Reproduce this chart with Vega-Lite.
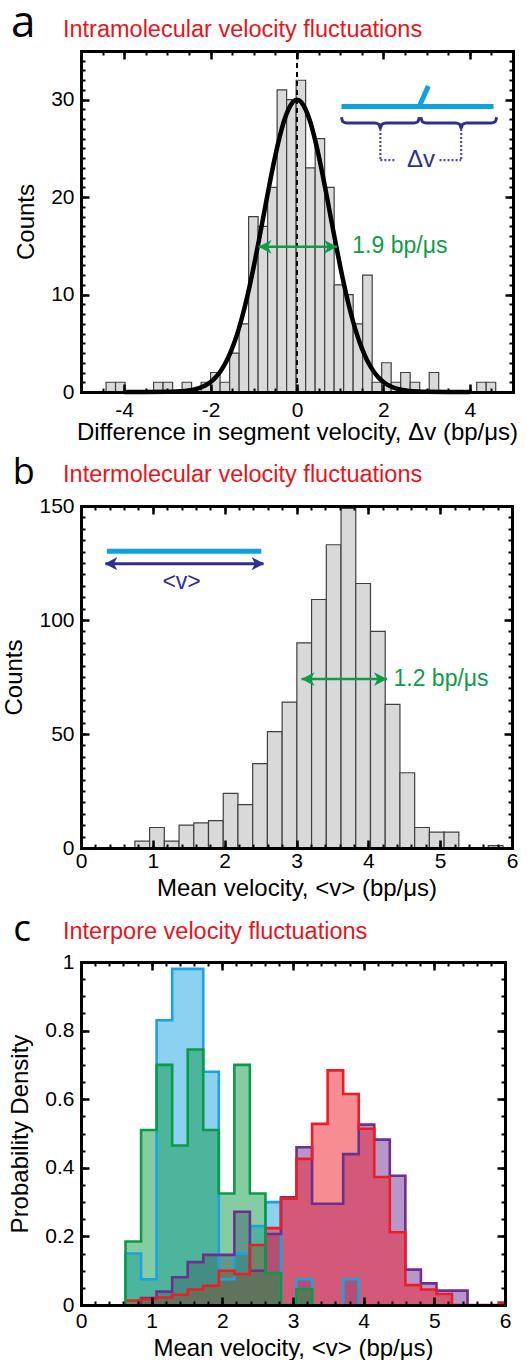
{
 "$schema": "https://vega.github.io/schema/vega-lite/v6.json",
 "background": "white",
 "padding": {"left": 2, "top": 2, "right": 2, "bottom": 0},
 "bounds": "flush",
 "spacing": 114,
 "datasets": {
  "histA": [
   {"x0": -4.42, "x1": -4.20, "n": 1}, {"x0": -4.20, "x1": -3.98, "n": 1},
   {"x0": -3.32, "x1": -3.10, "n": 1}, {"x0": -3.10, "x1": -2.88, "n": 1},
   {"x0": -2.66, "x1": -2.44, "n": 1}, {"x0": -2.22, "x1": -2.00, "n": 1},
   {"x0": -2.00, "x1": -1.78, "n": 2}, {"x0": -1.78, "x1": -1.56, "n": 1},
   {"x0": -1.56, "x1": -1.34, "n": 4}, {"x0": -1.34, "x1": -1.12, "n": 7},
   {"x0": -1.12, "x1": -0.90, "n": 18}, {"x0": -0.90, "x1": -0.68, "n": 17},
   {"x0": -0.68, "x1": -0.46, "n": 21}, {"x0": -0.46, "x1": -0.24, "n": 31},
   {"x0": -0.24, "x1": -0.02, "n": 30}, {"x0": -0.02, "x1": 0.20, "n": 32},
   {"x0": 0.20, "x1": 0.42, "n": 23}, {"x0": 0.42, "x1": 0.64, "n": 26},
   {"x0": 0.64, "x1": 0.86, "n": 21}, {"x0": 0.86, "x1": 1.08, "n": 11},
   {"x0": 1.08, "x1": 1.30, "n": 10}, {"x0": 1.30, "x1": 1.52, "n": 7},
   {"x0": 1.52, "x1": 1.74, "n": 12}, {"x0": 1.74, "x1": 1.96, "n": 1},
   {"x0": 1.96, "x1": 2.18, "n": 3}, {"x0": 2.18, "x1": 2.40, "n": 1},
   {"x0": 2.40, "x1": 2.62, "n": 2}, {"x0": 2.62, "x1": 2.84, "n": 1},
   {"x0": 3.06, "x1": 3.28, "n": 2}, {"x0": 4.16, "x1": 4.38, "n": 1},
   {"x0": 4.38, "x1": 4.60, "n": 1}
  ],
  "gauss": [
   {"x": -4.0, "y": 0}, {"x": -3.5, "y": 0}, {"x": -3.0, "y": 0.015}, {"x": -2.8, "y": 0.04},
   {"x": -2.6, "y": 0.10}, {"x": -2.4, "y": 0.23}, {"x": -2.2, "y": 0.51}, {"x": -2.0, "y": 1.03},
   {"x": -1.9, "y": 1.43}, {"x": -1.8, "y": 1.95}, {"x": -1.7, "y": 2.62}, {"x": -1.6, "y": 3.46},
   {"x": -1.5, "y": 4.50}, {"x": -1.4, "y": 5.74}, {"x": -1.3, "y": 7.21}, {"x": -1.2, "y": 8.91},
   {"x": -1.1, "y": 10.81}, {"x": -1.0, "y": 12.91}, {"x": -0.9, "y": 15.15}, {"x": -0.8, "y": 17.49},
   {"x": -0.7, "y": 19.85}, {"x": -0.6, "y": 22.15}, {"x": -0.5, "y": 24.30}, {"x": -0.4, "y": 26.21},
   {"x": -0.3, "y": 27.81}, {"x": -0.2, "y": 29.00}, {"x": -0.1, "y": 29.75}, {"x": 0.0, "y": 30.0},
   {"x": 0.1, "y": 29.75}, {"x": 0.2, "y": 29.00}, {"x": 0.3, "y": 27.81}, {"x": 0.4, "y": 26.21},
   {"x": 0.5, "y": 24.30}, {"x": 0.6, "y": 22.15}, {"x": 0.7, "y": 19.85}, {"x": 0.8, "y": 17.49},
   {"x": 0.9, "y": 15.15}, {"x": 1.0, "y": 12.91}, {"x": 1.1, "y": 10.81}, {"x": 1.2, "y": 8.91},
   {"x": 1.3, "y": 7.21}, {"x": 1.4, "y": 5.74}, {"x": 1.5, "y": 4.50}, {"x": 1.6, "y": 3.46},
   {"x": 1.7, "y": 2.62}, {"x": 1.8, "y": 1.95}, {"x": 1.9, "y": 1.43}, {"x": 2.0, "y": 1.03},
   {"x": 2.2, "y": 0.51}, {"x": 2.4, "y": 0.23}, {"x": 2.6, "y": 0.10}, {"x": 2.8, "y": 0.04},
   {"x": 3.0, "y": 0.015}, {"x": 3.5, "y": 0}, {"x": 4.0, "y": 0}
  ],
  "braces": [
   {"g": "L", "x": 1.03, "y": 28.2}, {"g": "L", "x": 1.06, "y": 27.75}, {"g": "L", "x": 1.15, "y": 27.6},
   {"g": "L", "x": 1.80, "y": 27.6}, {"g": "L", "x": 1.90, "y": 27.45}, {"g": "L", "x": 1.93, "y": 27.1},
   {"g": "L", "x": 1.96, "y": 27.45}, {"g": "L", "x": 2.06, "y": 27.6}, {"g": "L", "x": 2.71, "y": 27.6},
   {"g": "L", "x": 2.80, "y": 27.75}, {"g": "L", "x": 2.83, "y": 28.2},
   {"g": "R", "x": 2.87, "y": 28.2}, {"g": "R", "x": 2.90, "y": 27.75}, {"g": "R", "x": 2.99, "y": 27.6},
   {"g": "R", "x": 3.67, "y": 27.6}, {"g": "R", "x": 3.77, "y": 27.45}, {"g": "R", "x": 3.80, "y": 27.1},
   {"g": "R", "x": 3.83, "y": 27.45}, {"g": "R", "x": 3.93, "y": 27.6}, {"g": "R", "x": 4.50, "y": 27.6},
   {"g": "R", "x": 4.59, "y": 27.75}, {"g": "R", "x": 4.62, "y": 28.2}
  ],
  "dotsA": [
   {"x": 1.93, "x2": 1.93, "y": 27.0, "y2": 23.8},
   {"x": 1.93, "x2": 2.30, "y": 23.8, "y2": 23.8},
   {"x": 3.80, "x2": 3.80, "y": 27.0, "y2": 23.8},
   {"x": 3.30, "x2": 3.80, "y": 23.8, "y2": 23.8}
  ],
  "cyanA": [
   {"x": 1.03, "x2": 4.55, "y": 29.3, "y2": 29.3},
   {"x": 2.83, "x2": 3.04, "y": 29.3, "y2": 31.4}
  ],
  "histB": [
   {"x0": 0.75, "x1": 0.955, "n": 3}, {"x0": 0.955, "x1": 1.16, "n": 9},
   {"x0": 1.16, "x1": 1.365, "n": 3}, {"x0": 1.365, "x1": 1.57, "n": 10},
   {"x0": 1.57, "x1": 1.775, "n": 11}, {"x0": 1.775, "x1": 1.98, "n": 12},
   {"x0": 1.98, "x1": 2.185, "n": 24}, {"x0": 2.185, "x1": 2.39, "n": 19},
   {"x0": 2.39, "x1": 2.595, "n": 37}, {"x0": 2.595, "x1": 2.80, "n": 51},
   {"x0": 2.80, "x1": 3.005, "n": 64}, {"x0": 3.005, "x1": 3.21, "n": 90},
   {"x0": 3.21, "x1": 3.415, "n": 109}, {"x0": 3.415, "x1": 3.62, "n": 133},
   {"x0": 3.62, "x1": 3.825, "n": 149}, {"x0": 3.825, "x1": 4.03, "n": 116},
   {"x0": 4.03, "x1": 4.235, "n": 95}, {"x0": 4.235, "x1": 4.44, "n": 63},
   {"x0": 4.44, "x1": 4.645, "n": 33}, {"x0": 4.645, "x1": 4.85, "n": 9},
   {"x0": 4.85, "x1": 5.055, "n": 7}, {"x0": 5.055, "x1": 5.26, "n": 7},
   {"x0": 5.67, "x1": 5.875, "n": 1}
  ],
  "histC": [
   {"s": "blue", "o": 1, "x": 0.63, "d": 0}, {"s": "blue", "o": 2, "x": 0.63, "d": 0.15},
   {"s": "blue", "o": 3, "x": 0.85, "d": 0.075}, {"s": "blue", "o": 4, "x": 1.07, "d": 0.83},
   {"s": "blue", "o": 5, "x": 1.29, "d": 0.98}, {"s": "blue", "o": 6, "x": 1.51, "d": 0.98},
   {"s": "blue", "o": 7, "x": 1.73, "d": 0.68}, {"s": "blue", "o": 8, "x": 1.95, "d": 0.075},
   {"s": "blue", "o": 9, "x": 2.17, "d": 0.15}, {"s": "blue", "o": 10, "x": 2.39, "d": 0.23},
   {"s": "blue", "o": 11, "x": 2.61, "d": 0.30}, {"s": "blue", "o": 12, "x": 2.83, "d": 0},
   {"s": "blue", "o": 13, "x": 3.05, "d": 0.075}, {"s": "blue", "o": 14, "x": 3.27, "d": 0},
   {"s": "blue", "o": 15, "x": 3.71, "d": 0.075}, {"s": "blue", "o": 16, "x": 3.93, "d": 0},
   {"s": "purple", "o": 1, "x": 0.85, "d": 0}, {"s": "purple", "o": 2, "x": 0.85, "d": 0.02},
   {"s": "purple", "o": 3, "x": 1.07, "d": 0.039}, {"s": "purple", "o": 4, "x": 1.29, "d": 0.081},
   {"s": "purple", "o": 5, "x": 1.51, "d": 0.125}, {"s": "purple", "o": 6, "x": 1.73, "d": 0.146},
   {"s": "purple", "o": 7, "x": 1.95, "d": 0.146}, {"s": "purple", "o": 8, "x": 2.17, "d": 0.272},
   {"s": "purple", "o": 9, "x": 2.39, "d": 0.10}, {"s": "purple", "o": 10, "x": 2.61, "d": 0.207},
   {"s": "purple", "o": 11, "x": 2.83, "d": 0.314}, {"s": "purple", "o": 12, "x": 3.05, "d": 0.46},
   {"s": "purple", "o": 13, "x": 3.27, "d": 0.295}, {"s": "purple", "o": 14, "x": 3.49, "d": 0.295},
   {"s": "purple", "o": 15, "x": 3.71, "d": 0.44}, {"s": "purple", "o": 16, "x": 3.93, "d": 0.526},
   {"s": "purple", "o": 17, "x": 4.15, "d": 0.482}, {"s": "purple", "o": 18, "x": 4.37, "d": 0.377},
   {"s": "purple", "o": 19, "x": 4.59, "d": 0.103}, {"s": "purple", "o": 20, "x": 4.81, "d": 0.063},
   {"s": "purple", "o": 21, "x": 5.03, "d": 0.042}, {"s": "purple", "o": 22, "x": 5.25, "d": 0.042},
   {"s": "purple", "o": 23, "x": 5.47, "d": 0},
   {"s": "red", "o": 1, "x": 0.63, "d": 0}, {"s": "red", "o": 2, "x": 0.63, "d": 0.013},
   {"s": "red", "o": 3, "x": 0.85, "d": 0.017}, {"s": "red", "o": 4, "x": 1.07, "d": 0.022},
   {"s": "red", "o": 5, "x": 1.29, "d": 0.03}, {"s": "red", "o": 6, "x": 1.51, "d": 0.045},
   {"s": "red", "o": 7, "x": 1.73, "d": 0.056}, {"s": "red", "o": 8, "x": 1.95, "d": 0.10},
   {"s": "red", "o": 9, "x": 2.17, "d": 0.09}, {"s": "red", "o": 10, "x": 2.39, "d": 0.175},
   {"s": "red", "o": 11, "x": 2.61, "d": 0.224}, {"s": "red", "o": 12, "x": 2.83, "d": 0.31},
   {"s": "red", "o": 13, "x": 3.05, "d": 0.426}, {"s": "red", "o": 14, "x": 3.27, "d": 0.528},
   {"s": "red", "o": 15, "x": 3.49, "d": 0.684}, {"s": "red", "o": 16, "x": 3.71, "d": 0.615},
   {"s": "red", "o": 17, "x": 3.93, "d": 0.514}, {"s": "red", "o": 18, "x": 4.15, "d": 0.373},
   {"s": "red", "o": 19, "x": 4.37, "d": 0.212}, {"s": "red", "o": 20, "x": 4.59, "d": 0.058},
   {"s": "red", "o": 21, "x": 4.81, "d": 0.045}, {"s": "red", "o": 22, "x": 5.03, "d": 0.032},
   {"s": "red", "o": 23, "x": 5.25, "d": 0}, {"s": "red", "o": 24, "x": 5.91, "d": 0.007},
   {"s": "red", "o": 25, "x": 6.13, "d": 0},
   {"s": "green", "o": 1, "x": 0.63, "d": 0}, {"s": "green", "o": 2, "x": 0.63, "d": 0.185},
   {"s": "green", "o": 3, "x": 0.85, "d": 0.51}, {"s": "green", "o": 4, "x": 1.07, "d": 0.70},
   {"s": "green", "o": 5, "x": 1.29, "d": 0.465}, {"s": "green", "o": 6, "x": 1.51, "d": 0.745},
   {"s": "green", "o": 7, "x": 1.73, "d": 0.51}, {"s": "green", "o": 8, "x": 1.95, "d": 0.325},
   {"s": "green", "o": 9, "x": 2.17, "d": 0.70}, {"s": "green", "o": 10, "x": 2.39, "d": 0.325},
   {"s": "green", "o": 11, "x": 2.61, "d": 0.093}, {"s": "green", "o": 12, "x": 2.83, "d": 0},
   {"s": "green", "o": 13, "x": 3.05, "d": 0.046}, {"s": "green", "o": 14, "x": 3.27, "d": 0}
  ]
 },
 "config": {
  "font": "Liberation Sans",
  "view": {"stroke": null},
  "axis": {
   "grid": false, "labelFont": "Liberation Sans", "labelFontSize": 21, "labelColor": "black",
   "titleFont": "Liberation Sans", "titleFontSize": 24, "titleFontWeight": "normal", "titleColor": "black",
   "tickColor": "black", "tickWidth": 2.5, "domainColor": "black", "domainWidth": 3, "domainCap": "square",
   "labelFlush": false, "labelOverlap": false
  }
 },
 "vconcat": [
  {
   "width": 432, "height": 341,
   "resolve": {"axis": {"x": "independent", "y": "independent"}},
   "layer": [
    {
     "data": {"name": "histA"},
     "mark": {"type": "rect", "fill": "#d9d9d9", "stroke": "#404040", "strokeWidth": 1.2},
     "encoding": {
      "x": {"field": "x0", "type": "quantitative", "scale": {"domain": [-5, 5], "nice": false, "zero": false},
            "axis": {"orient": "bottom", "values": [-4, -2, 0, 2, 4], "ticks": false, "domain": false, "labelPadding": 7, "labelExpr": "'' + datum.value", "title": "Difference in segment velocity, Δv (bp/μs)", "titlePadding": 0}},
      "x2": {"field": "x1"},
      "y": {"field": "n", "type": "quantitative", "scale": {"domain": [0, 35], "nice": false, "zero": false},
            "axis": {"orient": "left", "values": [0, 10, 20, 30], "ticks": false, "domain": false, "labelPadding": 7, "title": "Counts", "titlePadding": 12}},
      "y2": {"datum": 0}
     }
    },
    {
     "data": {"values": [{}]},
     "mark": {"type": "rule", "color": "black", "strokeWidth": 2, "strokeDash": [5, 4]},
     "encoding": {
      "x": {"datum": 0, "type": "quantitative",
            "axis": {"orient": "bottom", "values": [-5, -4.5, -4, -3.5, -3, -2.5, -2, -1.5, -1, -0.5, 0, 0.5, 1, 1.5, 2, 2.5, 3, 3.5, 4, 4.5, 5], "labels": false, "title": null, "domain": false, "tickSize": -4, "tickWidth": 2, "zindex": 1}},
      "y": {"datum": 0, "type": "quantitative",
            "axis": {"orient": "left", "values": [0, 1, 2, 3, 4, 5, 6, 7, 8, 9, 10, 11, 12, 13, 14, 15, 16, 17, 18, 19, 20, 21, 22, 23, 24, 25, 26, 27, 28, 29, 30, 31, 32, 33, 34, 35], "labels": false, "title": null, "domain": false, "tickSize": -4, "tickWidth": 2, "zindex": 1}},
      "y2": {"datum": 35}
     }
    },
    {
     "data": {"name": "gauss"},
     "mark": {"type": "line", "color": "black", "strokeWidth": 4.5, "interpolate": "monotone"},
     "encoding": {
      "x": {"field": "x", "type": "quantitative",
            "axis": {"orient": "bottom", "values": [-4, -2, 0, 2, 4], "labels": false, "title": null, "domain": true, "tickSize": -8, "zindex": 1}},
      "y": {"field": "y", "type": "quantitative",
            "axis": {"orient": "left", "values": [0, 10, 20, 30], "labels": false, "title": null, "domain": true, "tickSize": -8, "zindex": 1}}
     }
    },
    {
     "data": {"name": "braces"},
     "mark": {"type": "line", "color": "#2e2f8f", "strokeWidth": 3, "interpolate": "monotone"},
     "encoding": {
      "x": {"field": "x", "type": "quantitative",
            "axis": {"orient": "top", "values": [-4, -2, 0, 2, 4], "labels": false, "title": null, "domain": true, "tickSize": -8, "zindex": 1}},
      "y": {"field": "y", "type": "quantitative",
            "axis": {"orient": "right", "values": [0, 10, 20, 30], "labels": false, "title": null, "domain": true, "tickSize": -8, "zindex": 1}},
      "detail": {"field": "g"}
     }
    },
    {
     "data": {"name": "dotsA"},
     "mark": {"type": "rule", "color": "#5346a6", "strokeWidth": 2.2, "strokeDash": [2, 2]},
     "encoding": {
      "x": {"field": "x", "type": "quantitative",
            "axis": {"orient": "top", "values": [-5, -4.5, -4, -3.5, -3, -2.5, -2, -1.5, -1, -0.5, 0, 0.5, 1, 1.5, 2, 2.5, 3, 3.5, 4, 4.5, 5], "labels": false, "title": null, "domain": false, "tickSize": -4, "tickWidth": 2, "zindex": 1}},
      "x2": {"field": "x2"},
      "y": {"field": "y", "type": "quantitative",
            "axis": {"orient": "right", "values": [0, 1, 2, 3, 4, 5, 6, 7, 8, 9, 10, 11, 12, 13, 14, 15, 16, 17, 18, 19, 20, 21, 22, 23, 24, 25, 26, 27, 28, 29, 30, 31, 32, 33, 34, 35], "labels": false, "title": null, "domain": false, "tickSize": -4, "tickWidth": 2, "zindex": 1}},
      "y2": {"field": "y2"}
     }
    },
    {
     "data": {"name": "cyanA"},
     "mark": {"type": "rule", "color": "#0ca2e2", "strokeWidth": 5},
     "encoding": {
      "x": {"field": "x", "type": "quantitative", "axis": null},
      "x2": {"field": "x2"},
      "y": {"field": "y", "type": "quantitative", "axis": null},
      "y2": {"field": "y2"}
     }
    },
    {
     "data": {"values": [{}]},
     "mark": {"type": "rule", "color": "#0f9b47", "strokeWidth": 2.5},
     "encoding": {
      "x": {"datum": -0.89, "type": "quantitative", "axis": null},
      "x2": {"datum": 0.93},
      "y": {"datum": 14.9, "type": "quantitative", "axis": null}
     }
    },
    {
     "data": {"values": [{}]},
     "mark": {"type": "point", "shape": "M0,0L2,-1.05L1.45,0L2,1.05Z", "filled": true, "color": "#0f9b47", "size": 169, "opacity": 1},
     "encoding": {
      "x": {"datum": -0.89, "type": "quantitative", "axis": null},
      "y": {"datum": 14.9, "type": "quantitative", "axis": null}
     }
    },
    {
     "data": {"values": [{}]},
     "mark": {"type": "point", "shape": "M0,0L-2,-1.05L-1.45,0L-2,1.05Z", "filled": true, "color": "#0f9b47", "size": 169, "opacity": 1},
     "encoding": {
      "x": {"datum": 0.93, "type": "quantitative", "axis": null},
      "y": {"datum": 14.9, "type": "quantitative", "axis": null}
     }
    },
    {
     "data": {"values": [{}]},
     "mark": {"type": "text", "text": "1.9 bp/μs", "color": "#0f9b47", "fontSize": 23, "font": "Liberation Sans", "align": "left", "baseline": "middle"},
     "encoding": {
      "x": {"datum": 1.28, "type": "quantitative", "axis": null},
      "y": {"datum": 15.0, "type": "quantitative", "axis": null}
     }
    },
    {
     "data": {"values": [{}]},
     "mark": {"type": "text", "text": "Δv", "color": "#2e2f8f", "fontSize": 24, "font": "Liberation Sans", "align": "center", "baseline": "middle"},
     "encoding": {
      "x": {"datum": 2.87, "type": "quantitative", "axis": null},
      "y": {"datum": 23.8, "type": "quantitative", "axis": null}
     }
    },
    {
     "data": {"values": [{}]},
     "mark": {"type": "text", "text": "Intramolecular velocity fluctuations", "color": "#e8141c", "fontSize": 23.5, "font": "Liberation Sans", "align": "left", "baseline": "alphabetic"},
     "encoding": {
      "x": {"datum": -5.417, "type": "quantitative", "axis": null},
      "y": {"datum": 36.44, "type": "quantitative", "axis": null}
     }
    },
    {
     "data": {"values": [{}]},
     "mark": {"type": "text", "text": "a", "color": "black", "fontSize": 44, "font": "Open Sans", "align": "left", "baseline": "alphabetic"},
     "encoding": {
      "x": {"datum": -6.62, "type": "quantitative", "axis": null},
      "y": {"datum": 36.41, "type": "quantitative", "axis": null}
     }
    }
   ]
  },
  {
   "width": 431, "height": 342,
   "resolve": {"axis": {"x": "independent", "y": "independent"}},
   "layer": [
    {
     "data": {"name": "histB"},
     "mark": {"type": "rect", "fill": "#d9d9d9", "stroke": "#404040", "strokeWidth": 1.2},
     "encoding": {
      "x": {"field": "x0", "type": "quantitative", "scale": {"domain": [0, 6], "nice": false, "zero": false},
            "axis": {"orient": "bottom", "values": [0, 1, 2, 3, 4, 5, 6], "ticks": false, "domain": false, "labelPadding": 2, "labelExpr": "'' + datum.value", "title": "Mean velocity, <v> (bp/μs)", "titlePadding": 5}},
      "x2": {"field": "x1"},
      "y": {"field": "n", "type": "quantitative", "scale": {"domain": [0, 150], "nice": false, "zero": false},
            "axis": {"orient": "left", "values": [0, 50, 100, 150], "ticks": false, "domain": false, "labelPadding": 7, "title": "Counts", "titlePadding": 12}},
      "y2": {"datum": 0}
     }
    },
    {
     "data": {"values": [{}]},
     "mark": {"type": "rule", "color": "#0ca2e2", "strokeWidth": 5},
     "encoding": {
      "x": {"datum": 0.36, "type": "quantitative",
            "axis": {"orient": "bottom", "values": [0, 1, 2, 3, 4, 5, 6], "labels": false, "title": null, "domain": true, "tickSize": -8, "zindex": 1}},
      "x2": {"datum": 2.51},
      "y": {"datum": 130.2, "type": "quantitative",
            "axis": {"orient": "left", "values": [0, 50, 100, 150], "labels": false, "title": null, "domain": true, "tickSize": -8, "zindex": 1}}
     }
    },
    {
     "data": {"values": [{}]},
     "mark": {"type": "rule", "color": "#2e2f8f", "strokeWidth": 3},
     "encoding": {
      "x": {"datum": 0.34, "type": "quantitative",
            "axis": {"orient": "bottom", "values": [0, 0.2, 0.4, 0.6, 0.8, 1, 1.2, 1.4, 1.6, 1.8, 2, 2.2, 2.4, 2.6, 2.8, 3, 3.2, 3.4, 3.6, 3.8, 4, 4.2, 4.4, 4.6, 4.8, 5, 5.2, 5.4, 5.6, 5.8, 6], "labels": false, "title": null, "domain": false, "tickSize": -4, "tickWidth": 2, "zindex": 1}},
      "x2": {"datum": 2.54},
      "y": {"datum": 124.7, "type": "quantitative",
            "axis": {"orient": "left", "values": [0, 5, 10, 15, 20, 25, 30, 35, 40, 45, 50, 55, 60, 65, 70, 75, 80, 85, 90, 95, 100, 105, 110, 115, 120, 125, 130, 135, 140, 145, 150], "labels": false, "title": null, "domain": false, "tickSize": -4, "tickWidth": 2, "zindex": 1}}
     }
    },
    {
     "data": {"values": [{}]},
     "mark": {"type": "rule", "color": "#0f9b47", "strokeWidth": 2.5},
     "encoding": {
      "x": {"datum": 3.07, "type": "quantitative",
            "axis": {"orient": "top", "values": [0, 1, 2, 3, 4, 5, 6], "labels": false, "title": null, "domain": true, "tickSize": -8, "zindex": 1}},
      "x2": {"datum": 4.26},
      "y": {"datum": 74.1, "type": "quantitative",
            "axis": {"orient": "right", "values": [0, 50, 100, 150], "labels": false, "title": null, "domain": true, "tickSize": -8, "zindex": 1}}
     }
    },
    {
     "data": {"values": [{}]},
     "mark": {"type": "point", "shape": "M0,0L2,-1.05L1.45,0L2,1.05Z", "filled": true, "color": "#2e2f8f", "size": 160, "opacity": 1},
     "encoding": {
      "x": {"datum": 0.33, "type": "quantitative",
            "axis": {"orient": "top", "values": [0, 0.2, 0.4, 0.6, 0.8, 1, 1.2, 1.4, 1.6, 1.8, 2, 2.2, 2.4, 2.6, 2.8, 3, 3.2, 3.4, 3.6, 3.8, 4, 4.2, 4.4, 4.6, 4.8, 5, 5.2, 5.4, 5.6, 5.8, 6], "labels": false, "title": null, "domain": false, "tickSize": -4, "tickWidth": 2, "zindex": 1}},
      "y": {"datum": 124.7, "type": "quantitative",
            "axis": {"orient": "right", "values": [0, 5, 10, 15, 20, 25, 30, 35, 40, 45, 50, 55, 60, 65, 70, 75, 80, 85, 90, 95, 100, 105, 110, 115, 120, 125, 130, 135, 140, 145, 150], "labels": false, "title": null, "domain": false, "tickSize": -4, "tickWidth": 2, "zindex": 1}}
     }
    },
    {
     "data": {"values": [{}]},
     "mark": {"type": "point", "shape": "M0,0L-2,-1.05L-1.45,0L-2,1.05Z", "filled": true, "color": "#2e2f8f", "size": 160, "opacity": 1},
     "encoding": {
      "x": {"datum": 2.55, "type": "quantitative", "axis": null},
      "y": {"datum": 124.7, "type": "quantitative", "axis": null}
     }
    },
    {
     "data": {"values": [{}]},
     "mark": {"type": "point", "shape": "M0,0L2,-1.05L1.45,0L2,1.05Z", "filled": true, "color": "#0f9b47", "size": 169, "opacity": 1},
     "encoding": {
      "x": {"datum": 3.07, "type": "quantitative", "axis": null},
      "y": {"datum": 74.1, "type": "quantitative", "axis": null}
     }
    },
    {
     "data": {"values": [{}]},
     "mark": {"type": "point", "shape": "M0,0L-2,-1.05L-1.45,0L-2,1.05Z", "filled": true, "color": "#0f9b47", "size": 169, "opacity": 1},
     "encoding": {
      "x": {"datum": 4.26, "type": "quantitative", "axis": null},
      "y": {"datum": 74.1, "type": "quantitative", "axis": null}
     }
    },
    {
     "data": {"values": [{}]},
     "mark": {"type": "text", "text": "1.2 bp/μs", "color": "#0f9b47", "fontSize": 23, "font": "Liberation Sans", "align": "left", "baseline": "middle"},
     "encoding": {
      "x": {"datum": 4.35, "type": "quantitative", "axis": null},
      "y": {"datum": 74.1, "type": "quantitative", "axis": null}
     }
    },
    {
     "data": {"values": [{}]},
     "mark": {"type": "text", "text": "<v>", "color": "#2e2f8f", "fontSize": 23, "font": "Liberation Sans", "align": "center", "baseline": "middle"},
     "encoding": {
      "x": {"datum": 1.40, "type": "quantitative", "axis": null},
      "y": {"datum": 116.5, "type": "quantitative", "axis": null}
     }
    },
    {
     "data": {"values": [{}]},
     "mark": {"type": "text", "text": "Intermolecular velocity fluctuations", "color": "#e8141c", "fontSize": 23.5, "font": "Liberation Sans", "align": "left", "baseline": "alphabetic"},
     "encoding": {
      "x": {"datum": -0.25, "type": "quantitative", "axis": null},
      "y": {"datum": 160.5, "type": "quantitative", "axis": null}
     }
    },
    {
     "data": {"values": [{}]},
     "mark": {"type": "text", "text": "b", "color": "black", "fontSize": 36, "font": "Open Sans", "align": "left", "baseline": "alphabetic"},
     "encoding": {
      "x": {"datum": -0.95, "type": "quantitative", "axis": null},
      "y": {"datum": 159.6, "type": "quantitative", "axis": null}
     }
    }
   ]
  },
  {
   "width": 424, "height": 343,
   "resolve": {"axis": {"x": "independent", "y": "independent"}},
   "layer": [
    {
     "data": {"name": "histC"},
     "transform": [{"filter": "datum.s === 'blue' && datum.o > 1"}],
     "mark": {"type": "area", "interpolate": "step-after", "color": "#1aa3e0", "fillOpacity": 0.5},
     "encoding": {
      "x": {"field": "x", "type": "quantitative", "scale": {"domain": [0, 6], "nice": false, "zero": false},
            "axis": {"orient": "bottom", "values": [0, 1, 2, 3, 4, 5, 6], "ticks": false, "domain": false, "labelPadding": 5, "labelExpr": "'' + datum.value", "title": "Mean velocity, <v> (bp/μs)", "titlePadding": 5}},
      "y": {"field": "d", "type": "quantitative", "stack": null, "scale": {"domain": [0, 1], "nice": false, "zero": false},
            "axis": {"orient": "left", "values": [0, 0.2, 0.4, 0.6, 0.8, 1], "ticks": false, "domain": false, "labelPadding": 7, "labelExpr": "'' + datum.value", "title": "Probability Density", "titlePadding": 12}},
      "y2": {"datum": 0}
     }
    },
    {
     "data": {"name": "histC"},
     "transform": [{"filter": "datum.s === 'purple' && datum.o > 1"}],
     "mark": {"type": "area", "interpolate": "step-after", "color": "#6e2f91", "fillOpacity": 0.5},
     "encoding": {
      "x": {"field": "x", "type": "quantitative",
            "axis": {"orient": "bottom", "values": [0, 1, 2, 3, 4, 5, 6], "labels": false, "title": null, "domain": true, "tickSize": -8, "zindex": 1}},
      "y": {"field": "d", "type": "quantitative", "stack": null,
            "axis": {"orient": "left", "values": [0, 0.2, 0.4, 0.6, 0.8, 1], "labels": false, "title": null, "domain": true, "tickSize": -8, "zindex": 1}},
      "y2": {"datum": 0}
     }
    },
    {
     "data": {"name": "histC"},
     "transform": [{"filter": "datum.s === 'red' && datum.o > 1"}],
     "mark": {"type": "area", "interpolate": "step-after", "color": "#ee1c25", "fillOpacity": 0.5, "clip": true},
     "encoding": {
      "x": {"field": "x", "type": "quantitative",
            "axis": {"orient": "bottom", "values": [0, 0.2, 0.4, 0.6, 0.8, 1, 1.2, 1.4, 1.6, 1.8, 2, 2.2, 2.4, 2.6, 2.8, 3, 3.2, 3.4, 3.6, 3.8, 4, 4.2, 4.4, 4.6, 4.8, 5, 5.2, 5.4, 5.6, 5.8, 6], "labels": false, "title": null, "domain": false, "tickSize": -4, "tickWidth": 2, "zindex": 1}},
      "y": {"field": "d", "type": "quantitative", "stack": null,
            "axis": {"orient": "left", "values": [0, 0.05, 0.1, 0.15, 0.2, 0.25, 0.3, 0.35, 0.4, 0.45, 0.5, 0.55, 0.6, 0.65, 0.7, 0.75, 0.8, 0.85, 0.9, 0.95, 1], "labels": false, "title": null, "domain": false, "tickSize": -4, "tickWidth": 2, "zindex": 1}},
      "y2": {"datum": 0}
     }
    },
    {
     "data": {"name": "histC"},
     "transform": [{"filter": "datum.s === 'green' && datum.o > 1"}],
     "mark": {"type": "area", "interpolate": "step-after", "color": "#0b9a47", "fillOpacity": 0.5},
     "encoding": {
      "x": {"field": "x", "type": "quantitative",
            "axis": {"orient": "top", "values": [0, 1, 2, 3, 4, 5, 6], "labels": false, "title": null, "domain": true, "tickSize": -8, "zindex": 1}},
      "y": {"field": "d", "type": "quantitative", "stack": null,
            "axis": {"orient": "right", "values": [0, 0.2, 0.4, 0.6, 0.8, 1], "labels": false, "title": null, "domain": true, "tickSize": -8, "zindex": 1}},
      "y2": {"datum": 0}
     }
    },
    {
     "data": {"name": "histC"},
     "transform": [{"filter": "datum.s === 'blue'"}],
     "mark": {"type": "line", "interpolate": "step-after", "color": "#1aa3e0", "strokeWidth": 2.6},
     "encoding": {
      "x": {"field": "x", "type": "quantitative",
            "axis": {"orient": "top", "values": [0, 0.2, 0.4, 0.6, 0.8, 1, 1.2, 1.4, 1.6, 1.8, 2, 2.2, 2.4, 2.6, 2.8, 3, 3.2, 3.4, 3.6, 3.8, 4, 4.2, 4.4, 4.6, 4.8, 5, 5.2, 5.4, 5.6, 5.8, 6], "labels": false, "title": null, "domain": false, "tickSize": -4, "tickWidth": 2, "zindex": 1}},
      "y": {"field": "d", "type": "quantitative",
            "axis": {"orient": "right", "values": [0, 0.05, 0.1, 0.15, 0.2, 0.25, 0.3, 0.35, 0.4, 0.45, 0.5, 0.55, 0.6, 0.65, 0.7, 0.75, 0.8, 0.85, 0.9, 0.95, 1], "labels": false, "title": null, "domain": false, "tickSize": -4, "tickWidth": 2, "zindex": 1}},
      "order": {"field": "o"}
     }
    },
    {
     "data": {"name": "histC"},
     "transform": [{"filter": "datum.s === 'purple'"}],
     "mark": {"type": "line", "interpolate": "step-after", "color": "#6e2f91", "strokeWidth": 2.6},
     "encoding": {
      "x": {"field": "x", "type": "quantitative", "axis": null},
      "y": {"field": "d", "type": "quantitative", "axis": null},
      "order": {"field": "o"}
     }
    },
    {
     "data": {"name": "histC"},
     "transform": [{"filter": "datum.s === 'red'"}],
     "mark": {"type": "line", "interpolate": "step-after", "color": "#ee1c25", "strokeWidth": 2.6, "clip": true},
     "encoding": {
      "x": {"field": "x", "type": "quantitative", "axis": null},
      "y": {"field": "d", "type": "quantitative", "axis": null},
      "order": {"field": "o"}
     }
    },
    {
     "data": {"name": "histC"},
     "transform": [{"filter": "datum.s === 'green'"}],
     "mark": {"type": "line", "interpolate": "step-after", "color": "#0b9a47", "strokeWidth": 2.6},
     "encoding": {
      "x": {"field": "x", "type": "quantitative", "axis": null},
      "y": {"field": "d", "type": "quantitative", "axis": null},
      "order": {"field": "o"}
     }
    },
    {
     "data": {"values": [{}]},
     "mark": {"type": "text", "text": "Interpore velocity fluctuations", "color": "#e8141c", "fontSize": 23.5, "font": "Liberation Sans", "align": "left", "baseline": "alphabetic"},
     "encoding": {
      "x": {"datum": -0.255, "type": "quantitative", "axis": null},
      "y": {"datum": 1.067, "type": "quantitative", "axis": null}
     }
    },
    {
     "data": {"values": [{}]},
     "mark": {"type": "text", "text": "c", "color": "black", "fontSize": 37, "font": "Open Sans", "align": "left", "baseline": "alphabetic"},
     "encoding": {
      "x": {"datum": -0.96, "type": "quantitative", "axis": null},
      "y": {"datum": 1.061, "type": "quantitative", "axis": null}
     }
    }
   ]
  }
 ]
}
